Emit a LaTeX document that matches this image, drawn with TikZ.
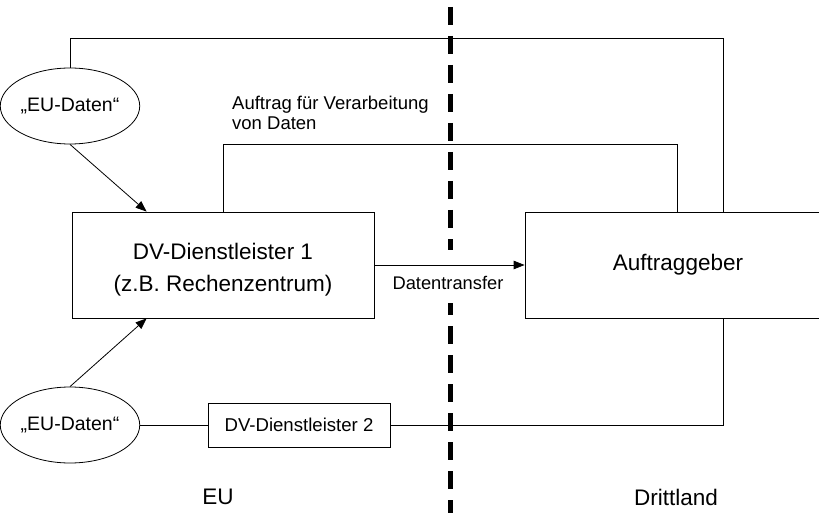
\documentclass[tikz,border=0pt]{standalone}
\usepackage{fontspec}
\setmainfont{Liberation Sans}
\usetikzlibrary{arrows.meta,shapes.geometric,calc}
\begin{document}
\begin{tikzpicture}[x=1pt,y=-1pt,
  box/.style={draw, line width=0.8pt, inner sep=0pt, align=center},
  oval/.style={draw, ellipse, line width=0.8pt, minimum width=113pt, minimum height=76pt, inner sep=0pt, font=\fontsize{19.5}{22}\selectfont},
  conn/.style={line width=0.8pt},
  arr/.style={conn, -{Triangle[length=11pt,width=8.5pt]}},
  txt/.style={inner sep=0pt},
  border/.style={line width=5pt, dash pattern=on 18pt off 11pt}]
\useasboundingbox (0,0) rectangle (819,513);
\clip (0,0) rectangle (819,513);

% nodes
\node[oval] (e1) at (70,106) {„EU-Daten“};
\node[oval] (e2) at (70,425) {„EU-Daten“};
\node[box, minimum width=302pt, minimum height=106pt, font=\fontsize{22.5}{32}\selectfont] (dv1) at (223,265) {\rule{0pt}{26.5pt}DV-Dienstleister 1\\(z.B. Rechenzentrum)};
\node[box, minimum width=306pt, minimum height=106pt, font=\fontsize{22.5}{27}\selectfont] (ag) at (678,265) {Auftraggeber};
\node[box, minimum width=182pt, minimum height=44pt, font=\fontsize{18.6}{22}\selectfont] (dv2) at (299,425) {DV-Dienstleister 2};

% border between EU and third country
\draw[border] (450,7) -- (450,250);
\draw[border, dash phase=6pt] (450,303) -- (450,513);

% labels
\node[txt, anchor=north west, align=left, font=\fontsize{18.5}{20}\selectfont] (lab) at (232,95.5) {Auftrag für Verarbeitung\\von Daten};
\node[txt, font=\fontsize{18.3}{22}\selectfont] (dt) at (448,283) {Datentransfer};
\node[txt, anchor=base, font=\fontsize{22.5}{27}\selectfont] (eu) at (218,504) {EU};
\node[txt, anchor=base, font=\fontsize{22.5}{27}\selectfont] (dl) at (676,505) {Drittland};

% connectors
\coordinate (t1) at (723,38);
\coordinate (t2) at (677,144);
\draw[arr] (e1.south) -- ($(dv1.north west)+(75,0)$);
\draw[arr] (e2.north) -- ($(dv1.south west)+(75,0)$);
\draw[arr] (dv1.east) -- (ag.west);
\draw[conn] (e1.north) |- (t1) -- (t1 |- ag.north);
\draw[conn] (dv1.north) |- (t2) -- (t2 |- ag.north);
\draw[conn] (e2.east) -- (dv2.west);
\draw[conn] (dv2.east) -| (t1 |- ag.south);
\end{tikzpicture}
\end{document}
